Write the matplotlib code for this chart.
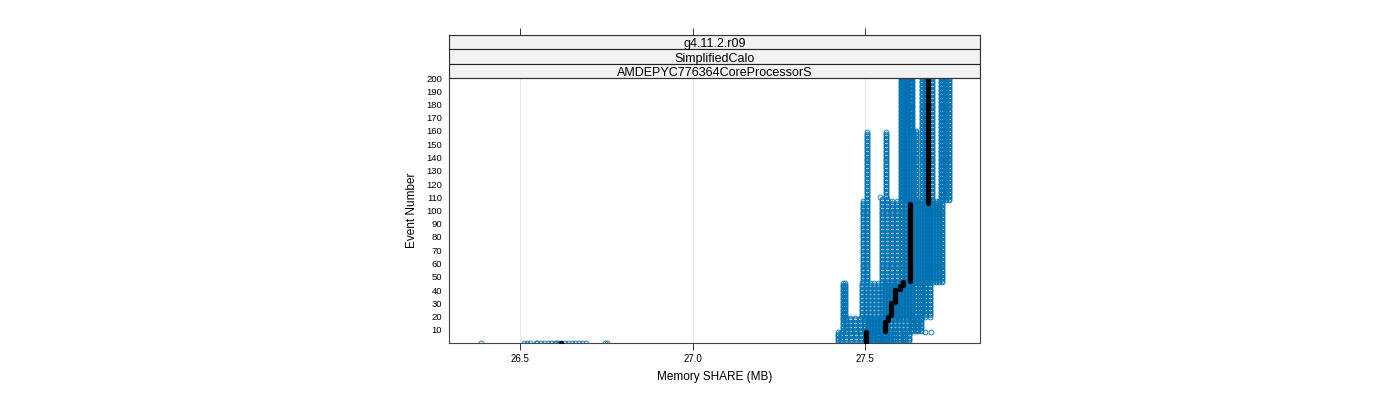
import numpy as np
import matplotlib
matplotlib.use("Agg")
import matplotlib.pyplot as plt
from matplotlib.patches import Rectangle

plt.rcParams['font.family'] = ['Liberation Sans', 'DejaVu Sans']

# ---- data: each run is a list of (first_event, last_event, memory_share_MB) ----
run_a1 = [(0, 0, 26.510), (1, 8, 27.422), (9, 19, 27.436), (20, 45, 27.436)]
run_a2 = [(0, 0, 26.530), (1, 8, 27.430), (9, 19, 27.445), (20, 45, 27.442)]
run_b1 = [(0, 0, 26.550), (1, 8, 27.445), (9, 19, 27.457), (20, 45, 27.491), (46, 159, 27.506)]
run_b2 = [(0, 0, 26.570), (1, 8, 27.459), (9, 19, 27.471), (20, 45, 27.503), (46, 107, 27.494)]
run_b3 = [(0, 0, 26.580), (1, 8, 27.474), (9, 19, 27.486), (20, 45, 27.515), (46, 109, 27.549), (110, 110, 27.543)]
run_b4 = [(0, 0, 26.600), (1, 8, 27.488), (9, 19, 27.500), (20, 45, 27.526), (46, 109, 27.564), (110, 159, 27.561)]
run_c3 = [(0, 0, 26.610), (1, 8, 27.532), (9, 19, 27.509), (20, 45, 27.538), (46, 107, 27.578)]
run_c4 = [(0, 0, 26.630), (1, 7, 27.552), (8, 8, 27.674), (9, 19, 27.648), (20, 45, 27.674), (46, 107, 27.593)]
run_c5 = [(0, 0, 26.640), (1, 7, 27.564), (8, 8, 27.691), (9, 19, 27.662), (20, 45, 27.688), (46, 107, 27.607)]
run_d1 = [(0, 0, 26.520), (1, 8, 27.514), (9, 19, 27.517), (20, 45, 27.549), (46, 107, 27.636), (108, 200, 27.604)]
run_d2 = [(0, 0, 26.545), (1, 8, 27.523), (9, 19, 27.526), (20, 45, 27.558), (46, 107, 27.645), (108, 200, 27.613)]
run_d3 = [(0, 0, 26.560), (1, 8, 27.538), (9, 19, 27.535), (20, 45, 27.567), (46, 107, 27.654), (108, 200, 27.622)]
run_d4 = [(0, 0, 26.590), (1, 8, 27.543), (9, 19, 27.543), (20, 45, 27.575), (46, 107, 27.662), (108, 160, 27.639), (161, 200, 27.630)]
run_d5 = [(0, 0, 26.605), (1, 8, 27.558), (9, 19, 27.552), (20, 45, 27.584), (46, 107, 27.671), (108, 160, 27.648), (161, 200, 27.636)]
run_d6 = [(0, 0, 26.620), (1, 8, 27.572), (9, 19, 27.564), (20, 45, 27.593), (46, 107, 27.680), (108, 200, 27.665)]
run_d7 = [(0, 0, 26.650), (1, 8, 27.587), (9, 19, 27.575), (20, 45, 27.601), (46, 107, 27.688), (108, 200, 27.694)]
run_d8 = [(0, 0, 26.660), (1, 8, 27.601), (9, 19, 27.587), (20, 45, 27.610), (46, 107, 27.697), (108, 200, 27.720)]
run_d9 = [(0, 0, 26.670), (1, 8, 27.616), (9, 19, 27.599), (20, 45, 27.619), (46, 107, 27.706), (108, 200, 27.727)]
run_d10 = [(0, 0, 26.680), (1, 8, 27.628), (9, 19, 27.610), (20, 45, 27.628), (46, 107, 27.714), (108, 200, 27.734)]
run_d11 = [(0, 0, 26.690), (1, 8, 27.503), (9, 19, 27.622), (20, 45, 27.636), (46, 107, 27.723), (108, 200, 27.742)]
run_d12 = [(0, 0, 26.745), (1, 8, 27.509), (9, 19, 27.633), (20, 45, 27.645), (46, 107, 27.684), (108, 200, 27.674)]
run_d13 = [(0, 0, 26.752), (1, 8, 27.581), (9, 19, 27.639), (20, 45, 27.659), (46, 107, 27.627), (108, 200, 27.630)]
run_d14 = [(0, 0, 26.387), (1, 8, 27.610), (9, 19, 27.654), (20, 45, 27.665), (46, 107, 27.616), (108, 200, 27.607)]

blue_runs = [run_a1, run_a2, run_b1, run_b2, run_b3, run_b4, run_c3, run_c4, run_c5,
             run_d1, run_d2, run_d3, run_d4, run_d5, run_d6, run_d7, run_d8, run_d9,
             run_d10, run_d11, run_d12, run_d13, run_d14]

# highlighted (black) run
run_black = [(0, 0, 26.620), (1, 8, 27.503), (9, 16, 27.558), (17, 20, 27.567),
             (21, 30, 27.575), (31, 40, 27.587), (41, 43, 27.601), (44, 46, 27.610),
             (47, 105, 27.630), (106, 200, 27.683)]

strip_labels = ["g4.11.2.r09", "SimplifiedCalo", "AMDEPYC776364CoreProcessorS"]
x_ticks = [26.5, 27.0, 27.5]
y_ticks = list(range(10, 201, 10))
x_label = "Memory SHARE (MB)"
y_label = "Event Number"

BLUE = "#0072B2"


def expand(run):
    xs, ys = [], []
    for s, e, m in run:
        ev = np.arange(s, e + 1)
        ys.extend(ev)
        xs.extend([m] * len(ev))
    return np.array(xs), np.array(ys)


W, H = 1400, 400
fig = plt.figure(figsize=(W / 100, H / 100), dpi=100)

L, R = 449 / W, 980 / W
B, T = 1 - 343 / H, 1 - 78 / H
ax = fig.add_axes([L, B, R - L, T - B])
xlim = (26.294, 27.833)
ax.set_xlim(*xlim)
ax.set_ylim(0, 200)

for xt in x_ticks:
    ax.axvline(xt, color="#e8e8e8", lw=0.8, zorder=0)

for run in blue_runs:
    xs, ys = expand(run)
    ax.plot(xs, ys, linestyle="none", marker="o", ms=3.5, mfc="none",
            mec=BLUE, mew=0.6, zorder=2)

xs, ys = expand(run_black)
ax.plot(xs, ys, linestyle="none", marker="o", ms=3.4, mfc="black",
        mec="black", mew=0.4, zorder=3)

ax.set_xticks(x_ticks)
ax.set_xticklabels([f"{v:.1f}" for v in x_ticks], fontsize=7)
ax.set_yticks(y_ticks)
ax.set_yticklabels([str(v) for v in y_ticks], fontsize=6.8)
ax.tick_params(axis="x", direction="out", length=5, width=0.7, color="#333333", pad=3)
ax.tick_params(axis="y", length=0, pad=5)
for sp in ax.spines.values():
    sp.set_color("#444444")
    sp.set_linewidth(0.8)
ax.set_xlabel(x_label, fontsize=8.5, labelpad=5)
ax.set_ylabel(y_label, fontsize=8.5, labelpad=6)

# strips
S_top = 1 - 35 / H
axs = fig.add_axes([L, T, R - L, S_top - T])
axs.set_xlim(*xlim)
axs.set_ylim(0, 3)
axs.set_yticks([])
axs.xaxis.tick_top()
axs.set_xticks(x_ticks)
axs.set_xticklabels([])
axs.tick_params(axis="x", direction="out", length=5, width=0.7, color="#333333")
for sp in axs.spines.values():
    sp.set_color("#333333")
    sp.set_linewidth(0.8)
for i, lab in enumerate(strip_labels):
    yb = 2 - i
    axs.add_patch(Rectangle((0, yb / 3), 1, 1 / 3, transform=axs.transAxes,
                            facecolor="#f2f2f2", edgecolor="#222222", lw=0.8))
    axs.text(0.5, (yb + 0.45) / 3, lab, transform=axs.transAxes, ha="center",
             va="center_baseline", fontsize=9)

fig.savefig("out.png", dpi=100)
